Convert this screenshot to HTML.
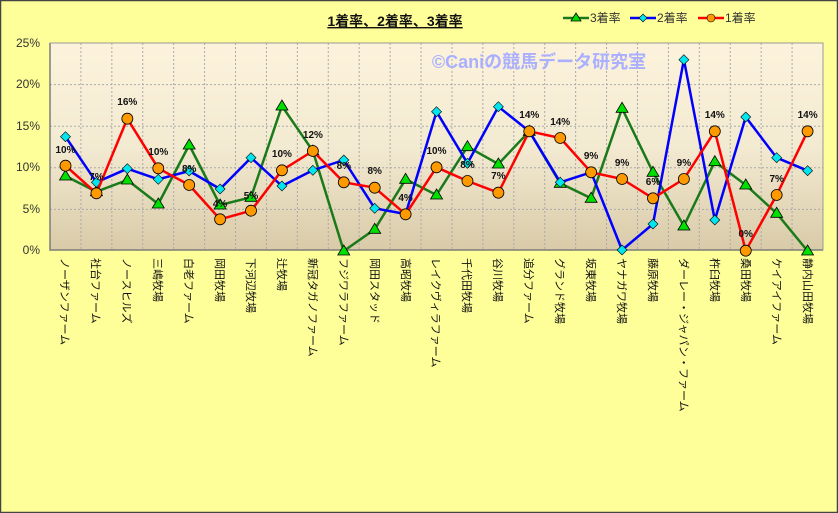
<!DOCTYPE html>
<html><head><meta charset="utf-8"><style>
body{margin:0;background:#fff}
svg{display:block;font-family:"Liberation Sans","Noto Sans CJK JP",sans-serif}
</style></head><body>
<svg id="s" width="838" height="513" xmlns="http://www.w3.org/2000/svg">
<defs><linearGradient id="g" x1="0" y1="0" x2="0" y2="1">
<stop offset="0" stop-color="#fdf3dc"/><stop offset="0.5" stop-color="#f3ead2"/><stop offset="1" stop-color="#d9cba8"/></linearGradient></defs>
<rect x="0.5" y="0.5" width="837" height="512" fill="#ffff99" stroke="#444" stroke-width="1.5"/>
<rect x="50" y="43" width="773" height="207" fill="url(#g)"/>
<g id="grid" stroke="#aaa" stroke-dasharray="2,2" stroke-width="1"></g>
<path d="M50,43V250H823" fill="none" stroke="#444" stroke-width="1.5"/>
<rect x="50" y="43" width="773" height="207" fill="none" stroke="#999" stroke-width="1"/>
<g font-size="12" fill="#333" text-anchor="end">
<text x="40" y="47">25%</text><text x="40" y="88">20%</text><text x="40" y="130">15%</text>
<text x="40" y="171">10%</text><text x="40" y="213">5%</text><text x="40" y="254">0%</text></g>
<text x="395" y="26" font-size="14" font-weight="bold" text-anchor="middle" fill="#111" text-decoration="underline">1着率、2着率、3着率</text>
<g font-size="12" fill="#333">
<line x1="563" y1="18" x2="589" y2="18" stroke="#1a7a1a" stroke-width="2.5"/><polygon points="576,13 581,21 571,21" fill="#00e000" stroke="#000" stroke-width="0.8"/><text x="590" y="22">3着率</text>
<line x1="630" y1="18" x2="656" y2="18" stroke="#0000ff" stroke-width="2.5"/><polygon points="643,14 647,18 643,22 639,18" fill="#00e5ee" stroke="#000" stroke-width="0.6"/><text x="657" y="22">2着率</text>
<line x1="698" y1="18" x2="724" y2="18" stroke="#ff0000" stroke-width="2.5"/><circle cx="711" cy="18" r="4" fill="#ff9900" stroke="#000" stroke-width="0.6"/><text x="725" y="22">1着率</text></g>
<text x="539" y="68" font-size="18" font-weight="bold" fill="#aab0ff" text-anchor="middle">©Caniの競馬データ研究室</text>
<g id="series"></g>
<g font-size="10" font-weight="bold" fill="#111" text-anchor="middle" id="pl">
<text x="65.5" y="153">10%</text><text x="96.4" y="180">7%</text><text x="127.3" y="105">16%</text><text x="158.3" y="155">10%</text>
<text x="189.2" y="172">8%</text><text x="220.1" y="207">4%</text><text x="251" y="199">5%</text><text x="281.9" y="157">10%</text>
<text x="312.9" y="138">12%</text><text x="343.8" y="169">8%</text><text x="374.7" y="174">8%</text><text x="405.6" y="201">4%</text>
<text x="436.5" y="154">10%</text><text x="467.5" y="168">8%</text><text x="498.4" y="179">7%</text><text x="529.3" y="118">14%</text>
<text x="560.2" y="125">14%</text><text x="591.1" y="159">9%</text><text x="622.1" y="166">9%</text><text x="653" y="185">6%</text>
<text x="683.9" y="166">9%</text><text x="714.8" y="118">14%</text><text x="745.7" y="237">0%</text><text x="776.7" y="182">7%</text>
<text x="807.6" y="118">14%</text></g>
<g font-size="11" fill="#111">
<text transform="translate(61,258) rotate(90)">ノーザンファーム</text>
<text transform="translate(92,258) rotate(90)">社台ファーム</text>
<text transform="translate(123,258) rotate(90)">ノースヒルズ</text>
<text transform="translate(154,258) rotate(90)">三嶋牧場</text>
<text transform="translate(185,258) rotate(90)">白老ファーム</text>
<text transform="translate(216,258) rotate(90)">岡田牧場</text>
<text transform="translate(247,258) rotate(90)">下河辺牧場</text>
<text transform="translate(278,258) rotate(90)">辻牧場</text>
<text transform="translate(309,258) rotate(90)">新冠タガノファーム</text>
<text transform="translate(340,258) rotate(90)">フジワラファーム</text>
<text transform="translate(371,258) rotate(90)">岡田スタッド</text>
<text transform="translate(402,258) rotate(90)">高昭牧場</text>
<text transform="translate(432,258) rotate(90)">レイクヴィラファーム</text>
<text transform="translate(463,258) rotate(90)">千代田牧場</text>
<text transform="translate(494,258) rotate(90)">谷川牧場</text>
<text transform="translate(525,258) rotate(90)">追分ファーム</text>
<text transform="translate(556,258) rotate(90)">グランド牧場</text>
<text transform="translate(587,258) rotate(90)">坂東牧場</text>
<text transform="translate(618,258) rotate(90)">ヤナガワ牧場</text>
<text transform="translate(649,258) rotate(90)">藤原牧場</text>
<text transform="translate(680,258) rotate(90)">ダーレー・ジャパン・ファーム</text>
<text transform="translate(711,258) rotate(90)">杵臼牧場</text>
<text transform="translate(742,258) rotate(90)">桑田牧場</text>
<text transform="translate(773,258) rotate(90)">ケイアイファーム</text>
<text transform="translate(804,258) rotate(90)">静内山田牧場</text>
</g>
</svg>
<script>
var NS="http://www.w3.org/2000/svg",X=[];for(var i=0;i<25;i++)X.push(65.5+30.92*i);
var grid=document.getElementById('grid'),h='';
for(var i=1;i<25;i++){var x=50+30.92*i;h+='<line x1="'+x+'" y1="43" x2="'+x+'" y2="250"/>';}
[84.6,126.2,167.8,209.4].forEach(function(y){h+='<line x1="50" y1="'+y+'" x2="823" y2="'+y+'"/>';});
grid.innerHTML=h;
var G=[176,191.7,180,204,145,205,197.3,106,151,251,229.3,179.3,195,146.7,164,131.3,183.3,198.3,108.3,172.3,226,161.7,185,213.3,251];
var B=[136.7,182.3,168.7,179.3,171,189,157.7,186,170.3,160,208.3,214,111.7,163.3,106.7,131.3,182.3,172.3,250,224,59.7,220,117,157.7,170.7];
var R=[165.7,193.3,118.7,168.3,185,219.3,210.7,170.3,151,182.3,187.7,214.3,167.3,181,192.7,131.3,138,172.3,179,198.3,179,131.3,250.7,195,131.3];
var s='';
function pl(a,c){return '<polyline fill="none" stroke="'+c+'" stroke-width="2.5" stroke-linejoin="round" points="'+a.map(function(y,i){return X[i]+','+y}).join(' ')+'"/>';}
s+=pl(G,'#1a7a1a');
G.forEach(function(y,i){var x=X[i];s+='<polygon points="'+x+','+(y-6)+' '+(x+6)+','+(y+4)+' '+(x-6)+','+(y+4)+'" fill="#00e000" stroke="#000" stroke-width="0.8"/>';});
s+=pl(B,'#0000ff');
B.forEach(function(y,i){var x=X[i];s+='<polygon points="'+x+','+(y-5)+' '+(x+5)+','+y+' '+x+','+(y+5)+' '+(x-5)+','+y+'" fill="#00e5ee" stroke="#000" stroke-width="0.6"/>';});
s+=pl(R,'#ff0000');
R.forEach(function(y,i){s+='<circle cx="'+X[i]+'" cy="'+y+'" r="5.5" fill="#ff9900" stroke="#000" stroke-width="0.8"/>';});
document.getElementById('series').innerHTML=s;
</script>
</body></html>
